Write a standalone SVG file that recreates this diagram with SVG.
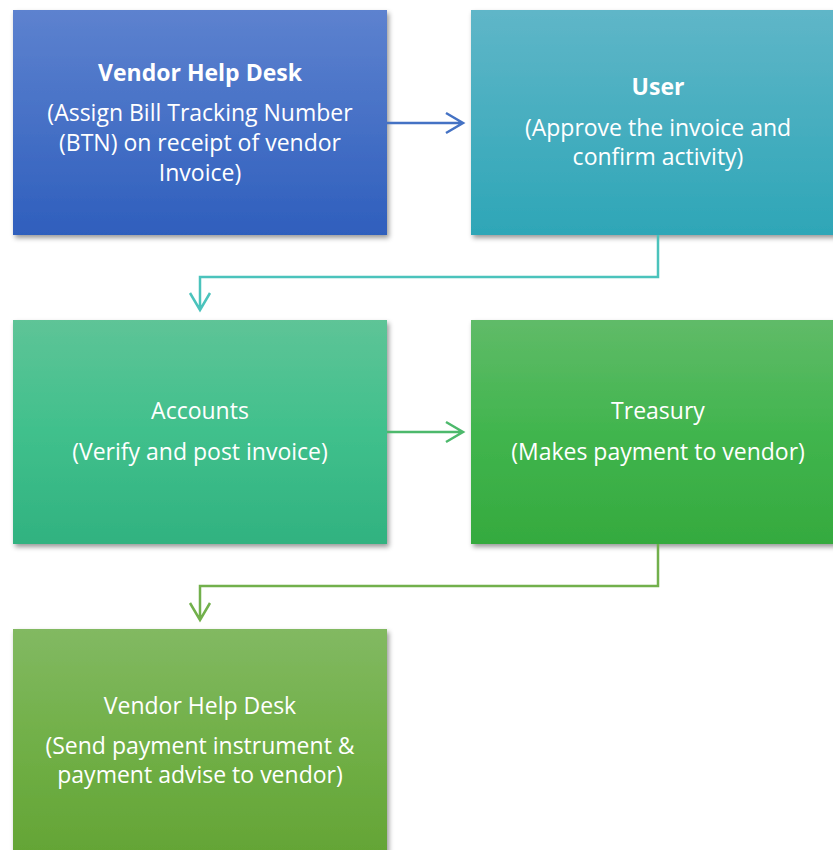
<svg xmlns="http://www.w3.org/2000/svg" width="833" height="850" viewBox="0 0 833 850">
<defs>
<linearGradient id="g1" x1="0" y1="0" x2="0" y2="1"><stop offset="0" stop-color="#5D82CF"/><stop offset="1" stop-color="#2F5FBD"/></linearGradient>
<linearGradient id="g2" x1="0" y1="0" x2="0" y2="1"><stop offset="0" stop-color="#5FB6C8"/><stop offset="1" stop-color="#2EA6B7"/></linearGradient>
<linearGradient id="g3" x1="0" y1="0" x2="0" y2="1"><stop offset="0" stop-color="#5EC497"/><stop offset="0.5" stop-color="#40C08C"/><stop offset="1" stop-color="#31B280"/></linearGradient>
<linearGradient id="g4" x1="0" y1="0" x2="0" y2="1"><stop offset="0" stop-color="#60BB68"/><stop offset="0.5" stop-color="#41B54E"/><stop offset="1" stop-color="#35AA3E"/></linearGradient>
<linearGradient id="g5" x1="0" y1="0" x2="0" y2="1"><stop offset="0" stop-color="#82B962"/><stop offset="0.5" stop-color="#70AF46"/><stop offset="1" stop-color="#62A333"/></linearGradient>
<filter id="sh" x="-5%" y="-5%" width="115%" height="115%"><feDropShadow dx="2" dy="3" stdDeviation="2.5" flood-color="#000" flood-opacity="0.4"/></filter>
</defs>
<style>
text{font-family:"Open Sans","Noto Sans",sans-serif;font-size:23px;fill:#fff;text-anchor:middle}
.b{font-weight:bold}
.c{fill:none;stroke-width:2.5;stroke-linejoin:miter}
</style>
<g id="n1"><rect x="13" y="10" width="374" height="225" fill="url(#g1)" filter="url(#sh)"/>
<text class="b" x="200" y="81">Vendor Help Desk</text>
<text x="200" y="121">(Assign Bill Tracking Number</text>
<text x="200" y="151">(BTN) on receipt of vendor</text>
<text x="200" y="181">Invoice)</text></g>
<g id="n2"><rect x="471" y="10" width="380" height="225" fill="url(#g2)" filter="url(#sh)"/>
<text class="b" x="658" y="95">User</text>
<text x="658" y="136">(Approve the invoice and</text>
<text x="658" y="165">confirm activity)</text></g>
<g id="n3"><rect x="13" y="320" width="374" height="224" fill="url(#g3)" filter="url(#sh)"/>
<text x="200" y="419">Accounts</text>
<text x="200" y="460">(Verify and post invoice)</text></g>
<g id="n4"><rect x="471" y="320" width="380" height="224" fill="url(#g4)" filter="url(#sh)"/>
<text x="658" y="419">Treasury</text>
<text x="658" y="460">(Makes payment to vendor)</text></g>
<g id="n5"><rect x="13" y="629" width="374" height="240" fill="url(#g5)" filter="url(#sh)"/>
<text x="200" y="714">Vendor Help Desk</text>
<text x="200" y="754">(Send payment instrument &amp;</text>
<text x="200" y="783">payment advise to vendor)</text></g>
<g id="connectors">
<path class="c" stroke="#4472C4" d="M387 123H463M446 113L463 123L446 133"/>
<path class="c" stroke="#4BC3BC" d="M658 235V277H200V310M190 293L200 310L210 293"/>
<path class="c" stroke="#4DB96C" d="M387 432H463M446 422L463 432L446 442"/>
<path class="c" stroke="#72B04C" d="M658 544V586H200V620M190 603L200 620L210 603"/>
</g>
</svg>
